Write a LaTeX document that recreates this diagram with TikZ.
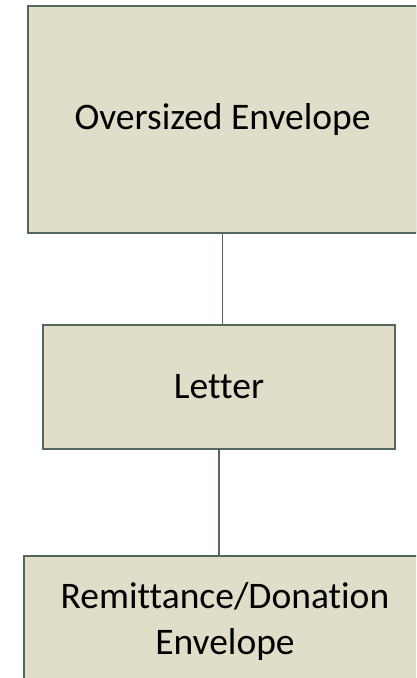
\documentclass[tikz,border=0pt]{standalone}
\usepackage{fontspec}
\setmainfont[Ligatures={NoCommon}]{Carlito}
\definecolor{boxfill}{RGB}{224,221,201}
\definecolor{boxline}{RGB}{82,105,90}
\begin{document}
\begin{tikzpicture}[x=1pt,y=-1pt,
  box/.style={draw=boxline,fill=boxfill,line width=1.6pt,inner sep=0pt,outer sep=0pt,
    align=center,font=\fontsize{37.5}{46}\selectfont},
  conn/.style={draw=boxline,line width=1.6pt}]
\clip (0,0) rectangle (416,678);
\fill[white] (0,0) rectangle (416,678);
\node[box,minimum width=389pt,minimum height=227pt] (top) at (222.5,119.5) {\raisebox{-3pt}{Oversized Envelope}};
\node[box,minimum width=352pt,minimum height=124pt] (letter) at (219,387) {Letter};
\node[box,minimum width=402pt,minimum height=130pt] (remit) at (225,621) {Remittance/Donation\\Envelope};
\draw[conn] (top.south) -- (top.south |- letter.north);
\draw[conn] (letter.south) -- (letter.south |- remit.north);
\end{tikzpicture}
\end{document}
